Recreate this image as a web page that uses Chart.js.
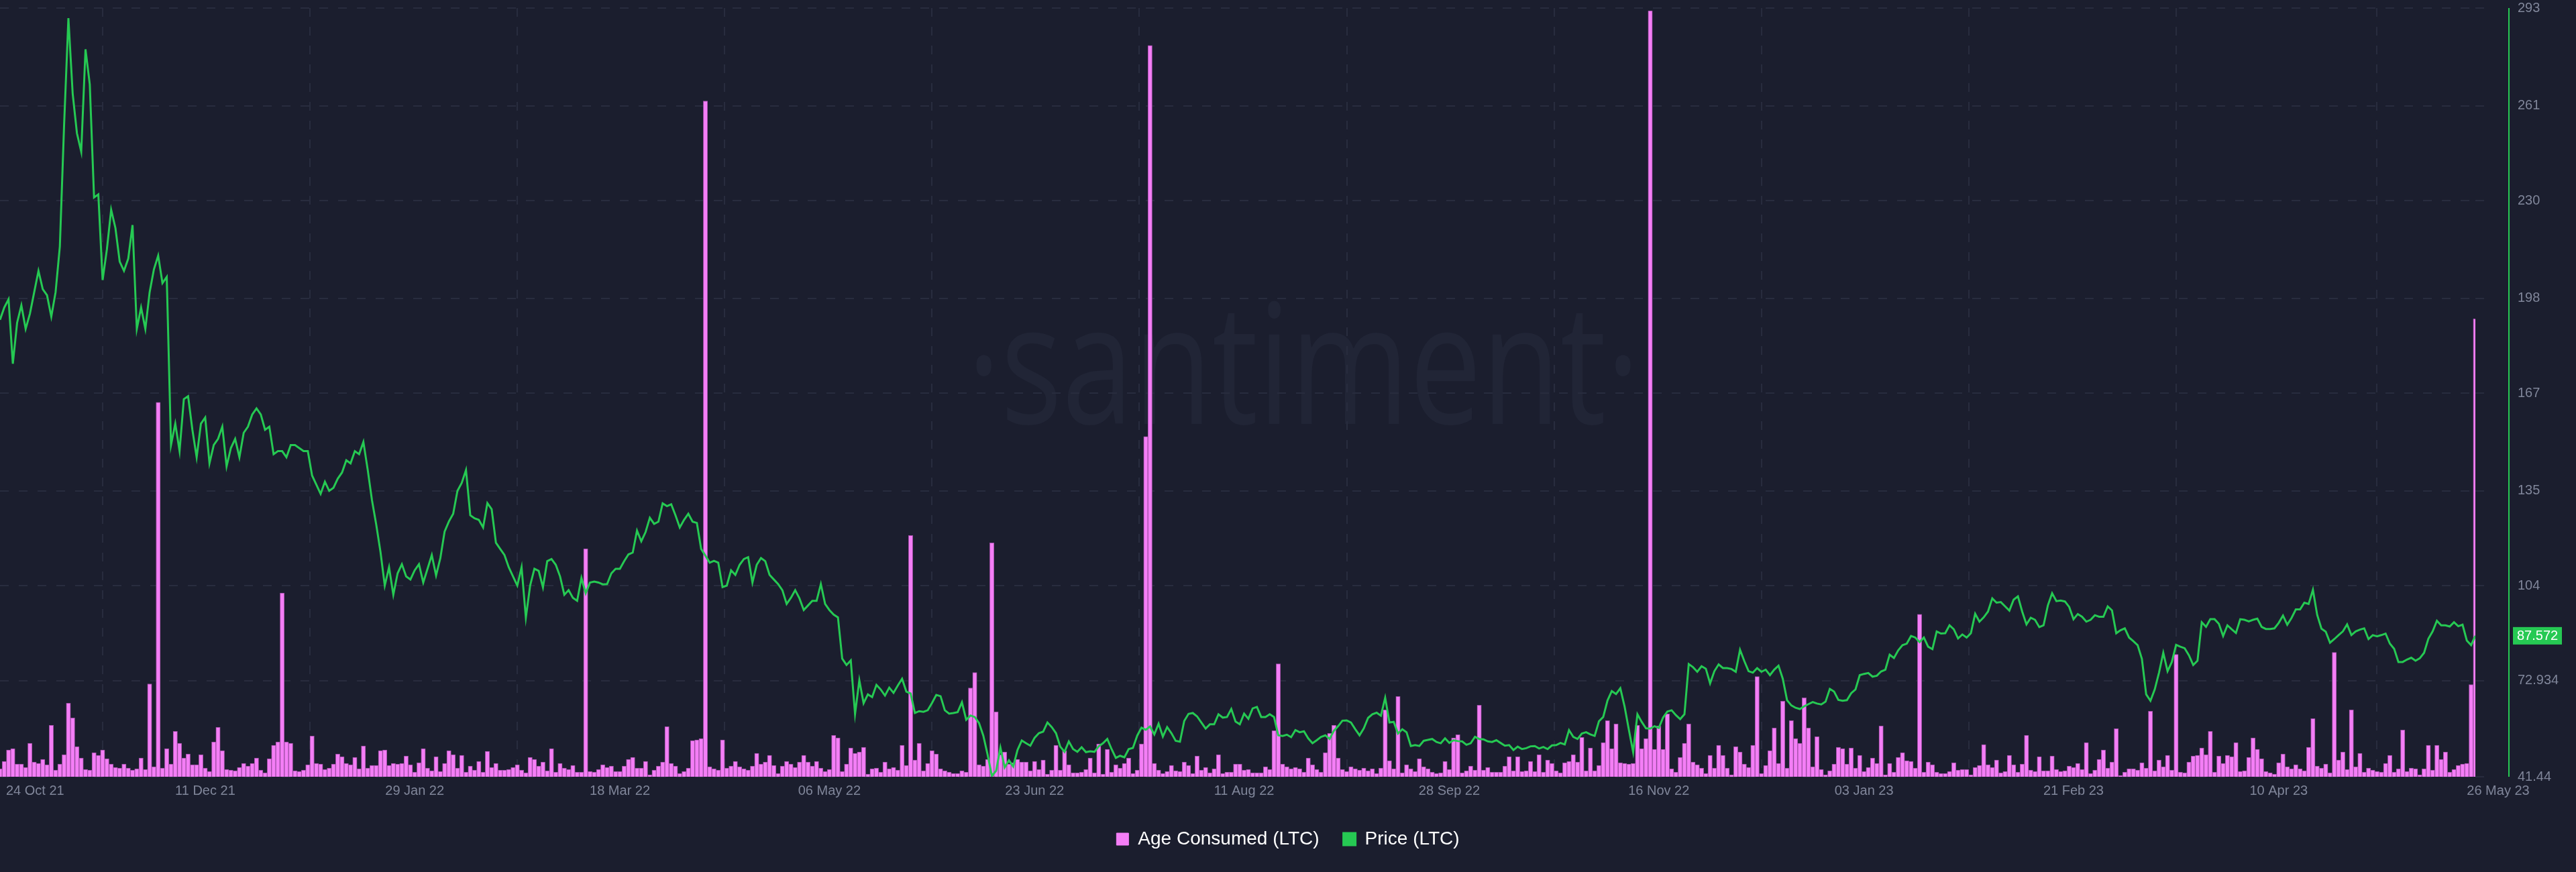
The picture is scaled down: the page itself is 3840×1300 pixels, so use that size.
<!DOCTYPE html>
<html>
<head>
<meta charset="utf-8">
<title>Age Consumed vs Price (LTC)</title>
<script src="https://cdn.jsdelivr.net/npm/chart.js@4.4.1/dist/chart.umd.min.js"></script>
<style>
  html, body { margin: 0; padding: 0; background: #1b1e2e; }
  #wrap { width: 3840px; height: 1300px; }
</style>
</head>
<body>
<div id="wrap"><canvas id="chart"></canvas></div>
<script>
// one value per day, 24 Oct 21 .. 26 May 23 (day index = position in the arrays)
const tickDays = [0, 48, 97, 145, 194, 242, 291, 339, 388, 436, 485, 533, 579];
const tickLabels = ['24 Oct 21', '11 Dec 21', '29 Jan 22', '18 Mar 22', '06 May 22', '23 Jun 22',
  '11 Aug 22', '28 Sep 22', '16 Nov 22', '03 Jan 23', '21 Feb 23', '10 Apr 23', '26 May 23'];

const priceTicks = [41.44, 72.934, 104, 135, 167, 198, 230, 261, 293];
const priceTickLabels = ['41.44', '72.934', '104', '135', '167', '198', '230', '261', '293'];

// Age Consumed (LTC), relative units
const ageConsumed = [
  12,23,40,42,19,19,14,50,22,20, 26,18,77,10,19,33,110,88,45,28, 11,10,36,32,40,27,19,14,13,19,
  13,10,12,28,11,139,15,560,13,42, 19,68,50,28,34,18,18,33,13,8, 52,74,39,11,10,9,14,20,16,20,
  28,10,6,27,47,52,275,52,50,9, 8,10,18,61,20,19,11,13,19,34, 30,20,18,29,12,46,13,17,17,39,
  40,17,20,19,20,31,18,7,21,42, 13,
  9,30,8,20,39,33,13,32,7,16, 10,23,7,38,14,20,10,10,11,14, 18,10,6,29,26,16,22,9,42,7,
  20,13,11,17,7,7,341,8,7,11, 18,14,16,8,8,16,26,29,13,13, 23,3,10,16,22,75,20,16,5,8,
  13,54,55,57,1011,15,12,10,55,13, 16,23,15,12,10,16,35,19,22,32, 17,5,16,23,19,14,22,32,22,16,
  23,13,8,11,62,58,8,19,43,35, 37,44,4,
  12,13,7,22,12,14,10,47,17,361, 25,50,9,20,39,34,12,9,7,5, 5,9,7,133,156,18,16,26,350,97,
  33,37,19,21,26,22,22,9,23,11, 25,4,10,47,10,39,18,6,6,7, 11,28,6,49,4,41,7,18,13,20,
  28,5,10,49,509,1094,20,10,5,8, 17,9,8,22,17,5,31,10,14,6, 12,33,5,7,7,19,19,10,11,6,
  6,6,15,11,69,169,19,
  15,12,14,12,7,28,18,11,7,36, 65,77,28,11,8,15,12,10,13,9, 12,5,13,100,24,12,120,6,18,12,
  8,27,15,12,7,5,6,23,11,58, 63,6,9,16,10,107,10,14,7,7, 7,16,30,9,30,8,9,23,8,33,
  7,25,20,9,6,21,23,33,22,59, 9,43,9,17,51,84,42,79,21,20, 19,20,77,42,57,1146,41,76,41,94,
  12,7,29,50,79,
  22,18,13,5,32,13,47,32,13,3, 45,37,19,14,47,150,5,17,39,73, 20,113,13,84,57,50,118,73,15,60,
  11,3,9,19,44,42,19,43,13,32, 8,14,28,20,76,3,20,7,29,36, 24,23,13,243,7,22,18,7,5,5,
  8,21,10,11,11,3,14,17,48,18, 14,25,6,8,32,18,7,19,62,10, 8,30,9,9,31,11,8,9,16,14,
  20,11,51,5,
  10,26,40,13,22,72,2,7,12,12, 10,21,13,98,9,25,15,32,10,183, 7,6,22,31,32,43,33,68,7,31,
  20,32,30,51,8,9,29,58,41,27, 8,6,4,21,34,15,12,18,12,9, 44,87,16,13,19,6,186,25,37,11,
  100,15,35,7,13,10,8,7,20,32, 7,12,70,8,13,12,3,12,47,10, 47,26,37,7,11,17,19,20,138,685
];

// Price (LTC), USD
const price = [
  191,195,197.7,176.6,190,195.7,188,193,200,207, 201,199,192,200,215,255,289.7,265,252,246,
  279.5,268,231,232,204,214,227,221,210,207, 211,222,188,195,188,200,207.5,212,203,205,
  150,157,148,165,166,155,146,157,159,144, 150,152,156,143,149,152,146,154,156,160,
  162,160,155,156,147,148,148,146,150,150, 149,148,148,140,137,134,138,135,136,139,
  141,145,144,148,147,151,142,132,124,115, 104,110,101,108,111,107,106,109,111,105,
  109.5,114,107.3,113,121.7,125,127.5,135,137.6,141.8, 127,126,125.5,123,131,129,118,116,114,110,
  107,104,110,93.5,104,109.5,108.8,103.4,112,112.7, 110.8,107,101,102.5,100,99,106.5,101.5,105,105.3,
  105,104.4,104.5,108,109.5,109.5,112,114.2,114.8,122, 118.5,121.5,126.2,124.2,124.9,130.9,130,130.6,127,123,
  125.5,127.5,124.9,124.5,116,113.8,111.5,112.1,111.5,103.5, 104,109,107.5,110.8,112.7,113.3,105,110.8,113,112,
  107.5,106,104.5,102.5,98,100,102.5,99.8,96,97.5, 99,99,104.5,98,96,94.5,93.6,80.1,78,79.5,
  62,73,65.5,68.4,67.5,71.5,70,68,70.6,68.9, 71.3,73.5,69.3,68.7,62.3,62.9,62.7,63.2,65.6,68.2,
  67.8,63.2,62.1,62.3,62.6,65.8,60.1,61.5,61,59, 54.9,48.7,41.7,43.4,51,44.5,46.8,44.8,50.2,53.3,
  52.4,51.6,54.2,55.7,56.2,59.2,57.7,55.7,51.3,49.6, 53,50.5,49.6,51.1,49.5,49.8,49.6,51.4,52.4,53.8,
  50.5,47.6,48.3,47.8,50.5,50.9,54.9,57.5,56.8,57.9, 55.3,58.8,54.6,57.7,55.7,53.2,52.9,59.7,62,62.3,
  61.2,59.2,57.2,58.6,58.6,61.9,60.8,61,63.6,59.5, 58.6,62.1,60.4,63.8,64.3,61,61,61.9,61,55,
  54.8,55.2,54.4,56.7,56,56.3,54,52.4,53.4,54.5, 55,53.8,56.5,58,59.8,59.9,59.2,57,55,57.3,
  60.7,61.9,62.4,61.4,67.3,59.2,59.4,55.6,57,56, 51.5,51.8,51.5,53.2,53.5,53.8,52.8,52.4,54,52.5,
  53.4,53.1,53,51.9,52.4,54.5,53.8,53.7,53,52.8, 53.4,52.5,51.6,51.8,50.2,51.3,50.5,50.8,51.4,51.5,
  50.7,51.2,50.5,51.7,51.8,52.5,52,56.7,54.5,53.8, 55.6,56,55.3,54.8,59.6,61,66.4,69.5,68.5,70.4,
  64.4,56.8,49.5,61.9,59.4,57.3,57.2,58,57.4,60.8, 62.8,63.2,61.6,60.3,61.9,78.3,77.3,75.8,77.6,76.8,
  72,76,78.2,77,77,76.7,75.8,83,79.3,76, 75.5,77,75.8,76.5,74.7,76.5,77.8,73.5,66.5,64.8,
  64,63.6,64.5,65.2,65.9,65.4,65.1,66,70.2,69.3, 66.6,66.3,66.5,68.8,70,74.7,75.1,75.4,74.2,74.5,
  75.9,76.5,81.4,80.3,82.8,84.5,85,87.5,87,85.5, 87,84,83.2,89,88.3,88.4,91,89.7,86.7,88,
  87,88.4,94.8,92.2,93.6,95.5,99.8,98.4,98.6,97.2, 95.8,99.4,100.5,95.5,91.3,93.5,92.8,90.4,91,97.5,
  101.5,98.9,99.1,98.8,97,93,94.7,93.8,92.2,92.8, 94.3,93.8,93.8,97.2,95.9,88.4,89.4,90,87,85.8,
  84.5,80,68.4,66.3,70,75.5,82,76,79,84.6, 84,83.5,81.2,78,79.4,92,90.5,93,93,91.5,
  87.5,91,89.7,88.5,93,92.8,92.3,92.8,93.2,90.5, 89.8,89.8,90,91.8,94.2,91.2,93.4,96.2,96.2,98.4,
  98,102.6,94.4,89.9,88.9,85.3,86.5,87.8,89,91.3, 87.8,89,89.6,90,86.5,87.8,87.4,87.8,88.3,85,
  83.3,79,79,79.8,80.4,79.4,80.2,82,86.6,89, 92.5,91,91,90.6,92,90.7,91.2,86,84.5,87.572
];

const BG = '#1b1e2e';
const GRID = '#282c3e';
const TEXT = '#80869a';
const PINK = '#f47ef6';
const GREEN = '#26c953';
const FONT = '"Liberation Sans", Arial, sans-serif';

// background + santiment watermark, behind the grid
const backdrop = {
  id: 'backdrop',
  beforeDraw(chart) {
    const { ctx, width, height } = chart;
    ctx.save();
    ctx.fillStyle = BG;
    ctx.fillRect(0, 0, width, height);
    ctx.font = '250px "Open Sans"';
    const w = ctx.measureText('·santiment·').width;
    ctx.translate(1943, 632);
    ctx.scale(1003 / w, 1);
    ctx.fillStyle = '#212536';
    ctx.textAlign = 'center';
    ctx.textBaseline = 'alphabetic';
    ctx.fillText('·santiment·', 0, 0);
    ctx.restore();
  }
};

// date labels, price axis line and last price badge
const overlay = {
  id: 'overlay',
  afterDraw(chart) {
    const { ctx, chartArea, scales } = chart;
    ctx.save();
    ctx.font = '20px ' + FONT;
    ctx.fillStyle = TEXT;
    ctx.textBaseline = 'middle';
    tickDays.forEach((d, i) => {
      let px = scales.x.getPixelForValue(d);
      ctx.textAlign = 'center';
      if (i === 0) { ctx.textAlign = 'left'; px += 9; }
      if (i === tickDays.length - 1) px += 34;
      ctx.fillText(tickLabels[i], px, chartArea.bottom + 21);
    });

    const ax = chartArea.right + 50;
    ctx.strokeStyle = GREEN;
    ctx.lineWidth = 2;
    ctx.beginPath();
    ctx.moveTo(ax, chartArea.top);
    ctx.lineTo(ax, chartArea.bottom);
    ctx.stroke();

    const last = price[price.length - 1];
    const py = scales.y.getPixelForValue(last);
    ctx.fillStyle = GREEN;
    ctx.fillRect(chartArea.right + 56, py - 13, 73, 26);
    ctx.fillStyle = '#ffffff';
    ctx.textAlign = 'left';
    ctx.fillText(last.toFixed(3), chartArea.right + 62, py + 1);
    ctx.restore();
  }
};

new Chart(document.getElementById('chart'), {
  type: 'bar',
  data: {
    datasets: [
      {
        type: 'bar',
        label: 'Age Consumed (LTC)',
        yAxisID: 'yAge',
        order: 1,
        data: ageConsumed.map((v, i) => ({ x: i, y: v })),
        backgroundColor: PINK,
        borderColor: '#a04fa6',
        borderWidth: 1,
        barPercentage: 1,
        categoryPercentage: 1,
      },
      {
        type: 'line',
        label: 'Price (LTC)',
        yAxisID: 'y',
        order: 0,
        data: price.map((v, i) => ({ x: i, y: v })),
        borderColor: GREEN,
        backgroundColor: GREEN,
        borderWidth: 3,
        pointRadius: 0,
        tension: 0,
      },
    ],
  },
  options: {
    responsive: true,
    maintainAspectRatio: false,
    animation: false,
    layout: { padding: { top: 12, left: 0, right: 0, bottom: 25 } },
    plugins: {
      tooltip: { enabled: false },
      legend: {
        position: 'bottom',
        labels: {
          color: '#ffffff',
          font: { size: 28, family: FONT },
          boxWidth: 18,
          boxHeight: 18,
          padding: 36,
          sort: (a, b) => a.datasetIndex - b.datasetIndex,
          generateLabels: (chart) => Chart.defaults.plugins.legend.labels.generateLabels(chart)
            .map((item) => ({ ...item, strokeStyle: item.fillStyle, lineDash: [] })),
        },
      },
    },
    scales: {
      x: {
        type: 'linear',
        min: 0,
        max: 579,
        offset: false,
        afterBuildTicks: (axis) => { axis.ticks = tickDays.map((v) => ({ value: v })); },
        afterFit: (axis) => { axis.height = 43; },
        ticks: { display: false },
        grid: { color: GRID, lineWidth: 2, drawTicks: false },
        border: { display: false, dash: [13, 15] },
      },
      y: {
        position: 'right',
        min: 41.44,
        max: 293,
        afterBuildTicks: (axis) => { axis.ticks = priceTicks.map((v) => ({ value: v })); },
        afterFit: (axis) => {
          axis.width = 150;
          // keep the label gap from pushing the plot down
          axis.paddingTop = 0;
          axis.paddingBottom = 0;
        },
        ticks: {
          color: TEXT,
          font: { size: 20, family: FONT },
          padding: 43,
          callback: (v, i) => priceTickLabels[i],
        },
        grid: { color: GRID, lineWidth: 2, tickLength: 20, tickBorderDash: [13, 15] },
        border: { display: false, dash: [13, 15] },
      },
      yAge: { display: false, min: 0, max: 1150 },
    },
  },
  plugins: [backdrop, overlay],
});
</script>
</body>
</html>
